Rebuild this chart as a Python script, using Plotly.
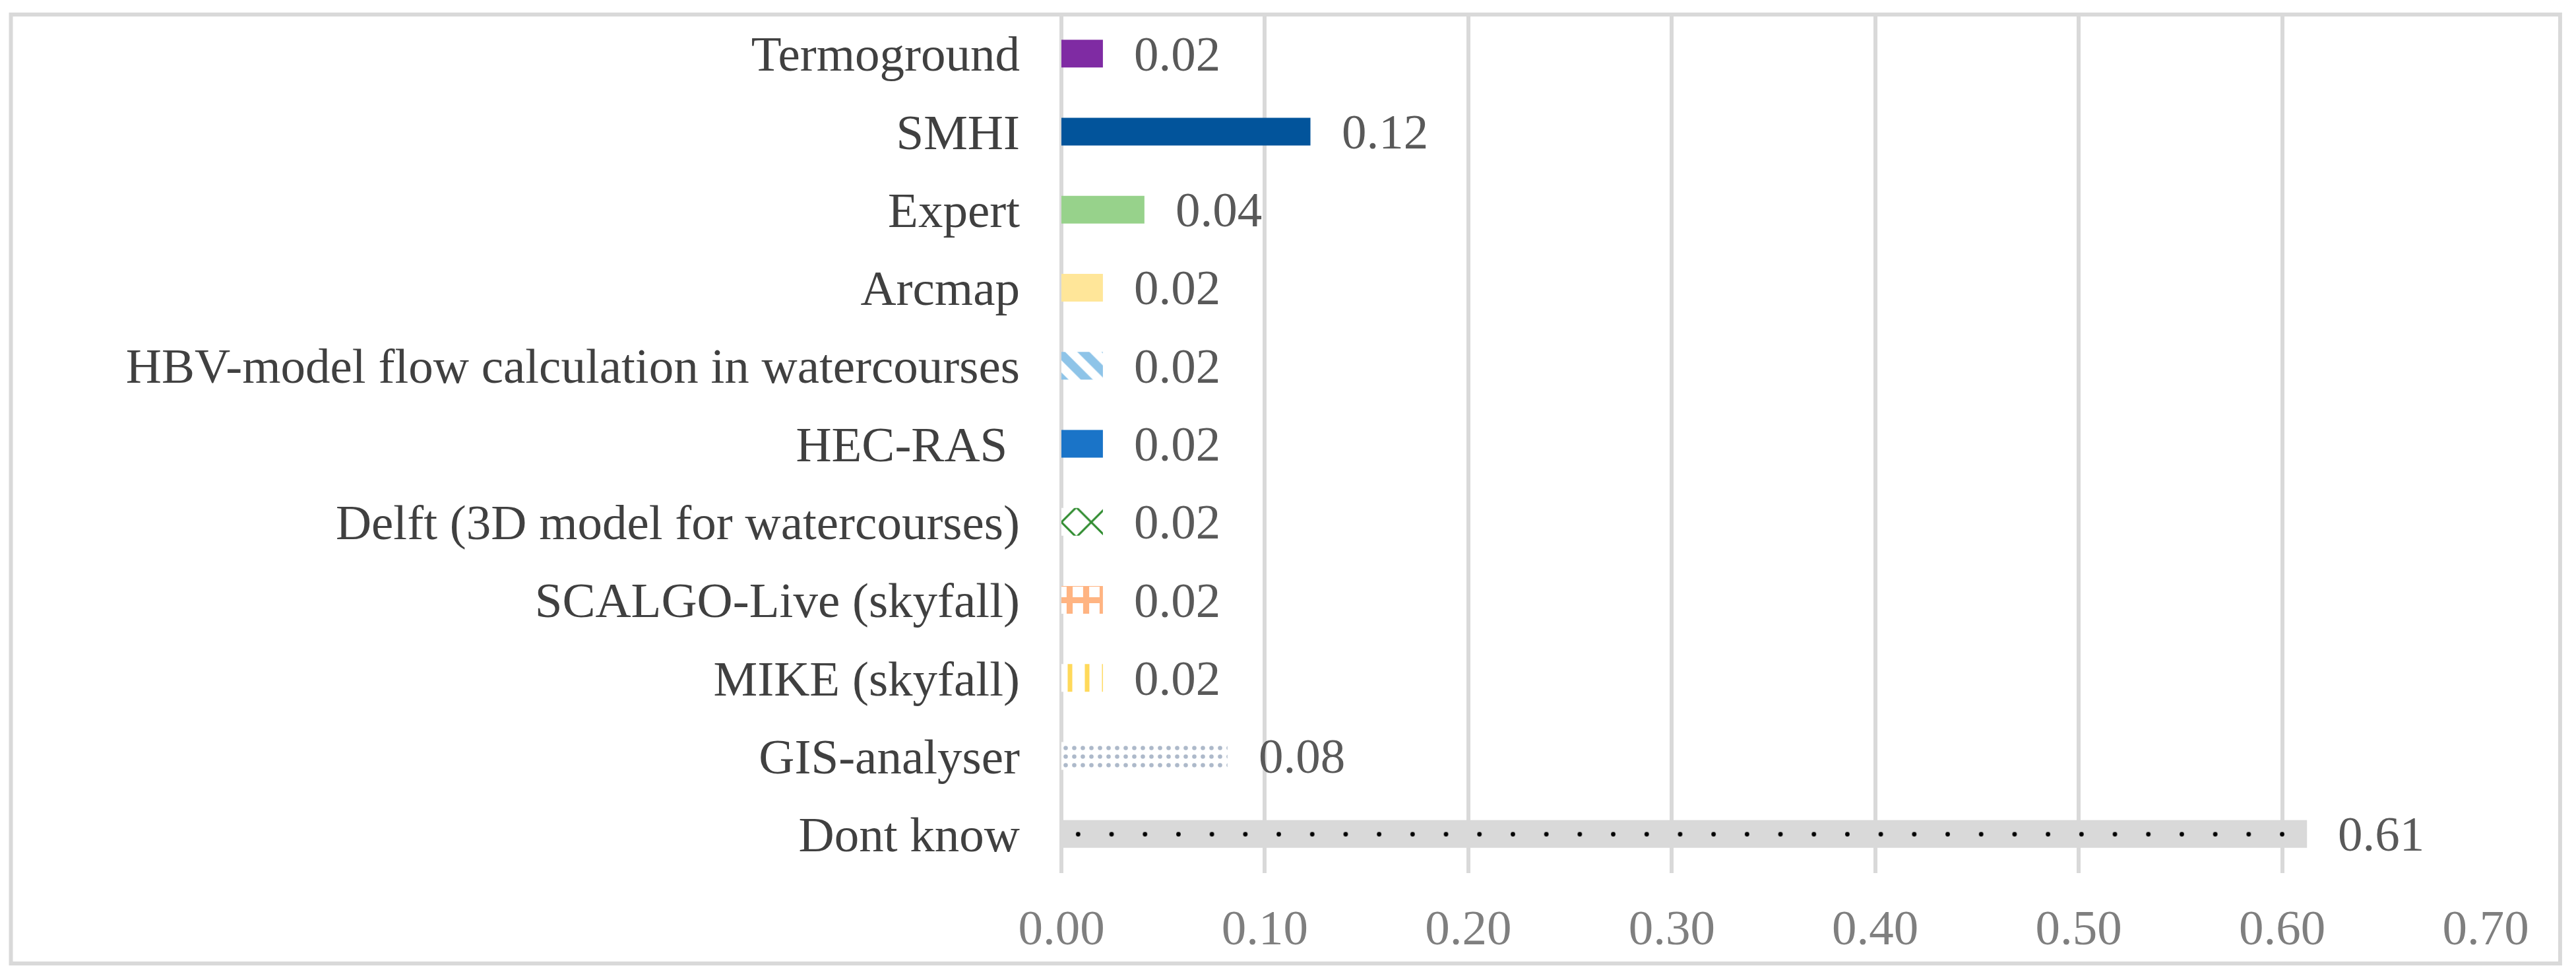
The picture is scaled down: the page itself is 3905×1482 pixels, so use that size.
import plotly.graph_objects as go

categories = [
    "Termoground",
    "SMHI",
    "Expert",
    "Arcmap",
    "HBV-model flow calculation in watercourses",
    "HEC-RAS ",
    "Delft (3D model for watercourses)",
    "SCALGO-Live (skyfall)",
    "MIKE (skyfall)",
    "GIS-analyser",
    "Dont know",
]
values = [0.0204, 0.1224, 0.0408, 0.0204, 0.0204, 0.0204, 0.0204, 0.0204, 0.0204, 0.0816, 0.6122]
value_labels = [f"{v:.2f}" for v in values]
x_ticks = [0.0, 0.1, 0.2, 0.3, 0.4, 0.5, 0.6, 0.7]

# styling per bar
pat_shapes = ["", "", "", "", "\\", "", "x", "+", "|", ".", "."]
pat_fg = ["#7F2BA3", "#02549B", "#97D28B", "#FFE699", "#8EC4E8", "#1A74C8",
          "#2E8B2E", "#FFB482", "#FFD95A", "#ADB9CA", "#000000"]
pat_bg = ["#7F2BA3", "#02549B", "#97D28B", "#FFE699", "#FFFFFF", "#1A74C8",
          "#FFFFFF", "#FFFFFF", "#FFFFFF", "#FFFFFF", "#D9D9D9"]
pat_size = [20, 20, 20, 20, 26, 20, 32, 25, 26, 13, 50.7]
pat_sol = [0.3, 0.3, 0.3, 0.3, 0.5, 0.3, 0.18, 0.6, 0.27, 0.2, 0.014]

FONT = "Liberation Serif, Times New Roman, serif"

fig = go.Figure()
for i, (c, v) in enumerate(zip(categories, values)):
    if pat_shapes[i]:
        marker = dict(
            color=pat_bg[i],
            line=dict(width=0),
            pattern=dict(shape=pat_shapes[i], fgcolor=pat_fg[i], bgcolor=pat_bg[i],
                         size=pat_size[i], solidity=pat_sol[i], fillmode="replace"),
        )
    else:
        marker = dict(color=pat_fg[i], line=dict(width=0))
    fig.add_trace(go.Bar(
        x=[v], y=[c], orientation="h", width=0.355, marker=marker,
        hoverinfo="skip", showlegend=False,
    ))

for v, c, t in zip(values, categories, value_labels):
    fig.add_annotation(
        x=v, y=c, text=t, showarrow=False, xanchor="left", yanchor="middle",
        xshift=45, font=dict(family=FONT, size=75, color="#595959"),
    )

# outer chart border
fig.add_shape(
    type="rect", xref="paper", yref="paper",
    x0=-0.7376, x1=1.0523, y0=-0.1053, y1=1.0,
    line=dict(color="#D9D9D9", width=6), fillcolor="rgba(0,0,0,0)", layer="below",
)

fig.update_layout(
    width=3889,
    height=1466,
    margin=dict(l=1601, r=129, t=14, b=151),
    paper_bgcolor="white",
    plot_bgcolor="white",
    showlegend=False,
    barmode="overlay",
    font=dict(family=FONT),
)
fig.update_xaxes(
    range=[0, 0.7],
    tickvals=x_ticks,
    tickformat=".2f",
    showgrid=True,
    gridcolor="#D9D9D9",
    gridwidth=6,
    zeroline=True,
    zerolinecolor="#D9D9D9",
    zerolinewidth=6,
    showline=False,
    ticks="",
    ticklabelstandoff=32,
    tickfont=dict(family=FONT, size=75, color="#7F7F7F"),
)
fig.update_yaxes(
    categoryorder="array",
    categoryarray=categories,
    autorange="reversed",
    showgrid=False,
    zeroline=False,
    showline=False,
    ticks="",
    ticklabelstandoff=62,
    tickfont=dict(family=FONT, size=75, color="#404040"),
)

fig.write_html("out.html")
